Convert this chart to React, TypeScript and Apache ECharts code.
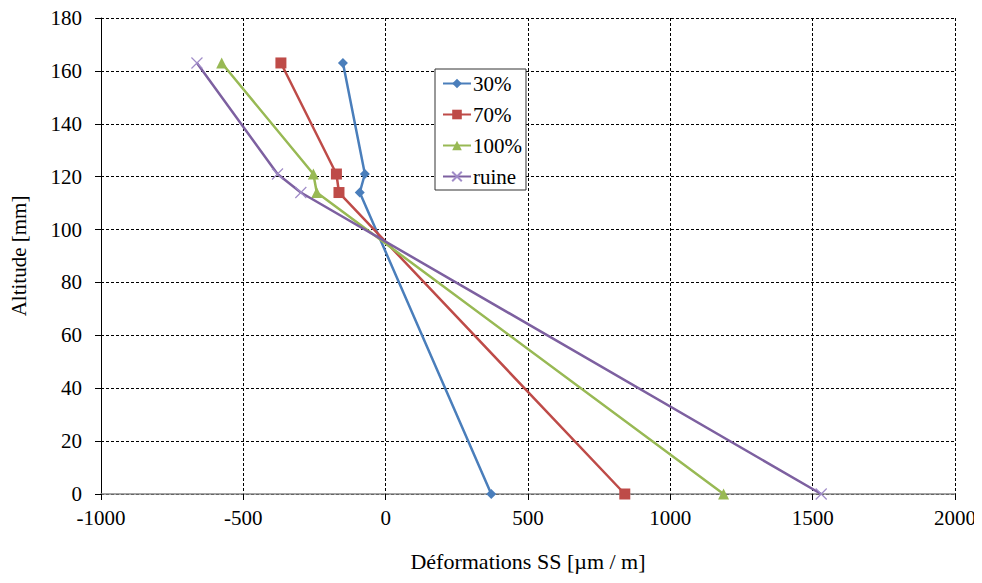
import React, { useEffect, useRef } from "react";
import * as echarts from "echarts";

const altitudes = [163, 121, 114, 0];
const s30 = [-150, -73, -91, 371];
const s70 = [-368, -173, -164, 840];
const s100 = [-576, -254, -242, 1187];
const sRuine = [-663, -380, -298, 1530];
const seriesNames = ["30%", "70%", "100%", "ruine"];
const colors = ["#4A7EBB", "#BE4B48", "#98B954", "#7D60A0"];

const FONT = "Liberation Serif";

function pairs(xs: number[]) {
  return xs.map((x, i) => [x, altitudes[i]]);
}

export default function App() {
  const ref = useRef<HTMLDivElement>(null);
  useEffect(() => {
    if (!ref.current) return;
    const chart = echarts.init(ref.current, undefined, { renderer: "svg" });
    const symbols = ["diamond", "rect", "triangle", "path://M0,0L10,10M10,0L0,10"];
    const sizes = [10, 11, 11, 11];
    const data = [s30, s70, s100, sRuine];
    chart.setOption({
      animation: false,
      backgroundColor: "#fff",
      grid: { left: 100, right: 27, top: 18, bottom: 89, containLabel: false },
      legend: {
        orient: "vertical",
        left: 435,
        top: 69,
        padding: [4, 4, 3, 7],
        itemGap: 10,
        itemWidth: 28,
        itemHeight: 12,
        backgroundColor: "#fff",
        borderColor: "#333",
        borderWidth: 1,
        textStyle: { fontFamily: FONT, fontSize: 21, lineHeight: 21, color: "#000", padding: [0, 0, 0, -3] },
        data: seriesNames,
      },
      xAxis: {
        type: "value",
        min: -1000,
        max: 2000,
        interval: 500,
        name: "Déformations SS [µm / m]",
        nameLocation: "middle",
        nameGap: 56,
        nameTextStyle: { fontFamily: FONT, fontSize: 22, color: "#000" },
        axisLine: { show: true, onZero: false, lineStyle: { color: "#888", width: 1.5 } },
        axisTick: { show: true, length: 6, lineStyle: { color: "#000" } },
        axisLabel: {
          fontFamily: FONT,
          fontSize: 21,
          color: "#000",
          margin: 13,
          formatter: (v: number) => String(v),
        },
        splitLine: { show: true, lineStyle: { color: "#000", type: [3, 2], width: 1 } },
      },
      yAxis: {
        type: "value",
        min: 0,
        max: 180,
        interval: 20,
        name: "Altitude [mm]",
        nameLocation: "middle",
        nameGap: 72,
        nameTextStyle: { fontFamily: FONT, fontSize: 21, color: "#000" },
        axisLine: { show: true, onZero: false, lineStyle: { color: "#000", width: 1 } },
        axisTick: { show: true, length: 6, lineStyle: { color: "#000" } },
        axisLabel: {
          fontFamily: FONT,
          fontSize: 21,
          color: "#000",
          margin: 19,
          formatter: (v: number) => String(v),
        },
        splitLine: { show: true, lineStyle: { color: "#000", type: [3, 2], width: 1 } },
      },
      series: data.map((d, i) => ({
        name: seriesNames[i],
        type: "line",
        data: pairs(d),
        smooth: false,
        symbol: symbols[i],
        symbolSize: sizes[i],
        lineStyle: { color: colors[i], width: 2.5 },
        itemStyle:
          i === 3
            ? { color: "transparent", borderColor: "#A08CC8", borderWidth: 1.2 }
            : { color: colors[i] },
        z: 2 + i,
      })),
    });
    return () => chart.dispose();
  }, []);
  return <div ref={ref} style={{ width: 982, height: 583, margin: -8 }} />;
}
